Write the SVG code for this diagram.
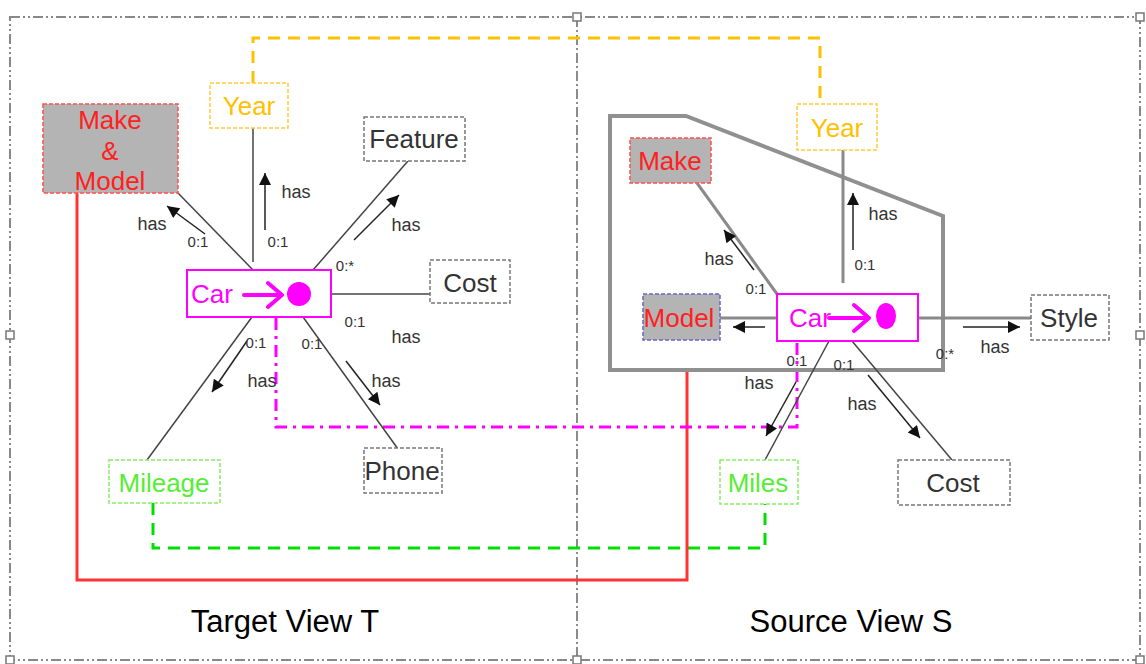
<svg xmlns="http://www.w3.org/2000/svg" width="1146" height="664" viewBox="0 0 1146 664">
<style>
text{font-family:"Liberation Sans",Arial,sans-serif}
.lbl{font-size:26px;text-anchor:middle}
.has{font-size:18px;fill:#333;text-anchor:middle}
.card{font-size:15px;fill:#333;text-anchor:middle}
.title{font-size:31px;fill:#000;text-anchor:middle}
.box{fill:#fff;stroke:#777;stroke-width:1.5;stroke-dasharray:4 2}
.ln{stroke:#444;stroke-width:1.5;fill:none}
.lnr{stroke:#8a8a8a;stroke-width:3;fill:none}
.arr{stroke:#222;stroke-width:1.5;fill:none;marker-end:url(#ah)}
.car{fill:#fff;stroke:#ff00ff;stroke-width:2}
.cartxt{fill:#ff00ff;font-size:26px}
.sym{stroke:#ff00ff;stroke-width:4;fill:none;stroke-linecap:round;stroke-linejoin:round}
.handle{fill:#fff;stroke:#777;stroke-width:1.5}
</style>
<defs>
<marker id="ah" viewBox="0 0 10 10" refX="10" refY="5" markerWidth="14" markerHeight="12" markerUnits="userSpaceOnUse" orient="auto">
<path d="M0,0 L10,5 L0,10 z" fill="#111"/>
</marker>
</defs>
<rect width="1146" height="664" fill="#fff"/>
<g id="frame">
<rect x="10" y="17" width="1130" height="643" fill="none" stroke="#888" stroke-width="2" stroke-dasharray="10 3 2 3 2 3"/>
<line x1="577" y1="17" x2="577" y2="660" stroke="#666" stroke-width="1.5" stroke-dasharray="10 3 2 3"/>
<rect class="handle" x="573" y="13" width="8" height="8"/>
<rect class="handle" x="1136" y="13" width="8" height="8"/>
<rect class="handle" x="6" y="331" width="8" height="8"/>
<rect class="handle" x="1136" y="331" width="8" height="8"/>
<rect class="handle" x="573" y="656" width="8" height="8"/>
<rect class="handle" x="6" y="656" width="8" height="8"/>
<rect class="handle" x="1136" y="656" width="8" height="8"/>
</g>
<g id="mappings">
<polyline points="253,83 253,38 820,38 820,104" fill="none" stroke="#ffc000" stroke-width="3" stroke-dasharray="12 8"/>
<polyline points="153,503 153,548 765,548 765,504" fill="none" stroke="#00e000" stroke-width="3" stroke-dasharray="12 8"/>
<polyline points="77,193 77,580 687,580 687,370" fill="none" stroke="#ff3333" stroke-width="3"/>
<polyline points="276,318 276,427 797,427 797,343" fill="none" stroke="#ff00ff" stroke-width="3" stroke-dasharray="12 6 3 6"/>
</g>
<g id="source-group">
<polygon points="610,116 686,116 943,216 943,370 610,370" fill="none" stroke="#909090" stroke-width="4"/>
</g>
<g id="connectors">
<line class="ln" x1="253" y1="270" x2="178" y2="193"/>
<line class="ln" x1="253" y1="128" x2="253" y2="262"/>
<line class="ln" x1="313" y1="270" x2="408" y2="161"/>
<line class="ln" x1="331" y1="294" x2="430" y2="294"/>
<line class="ln" x1="252" y1="317" x2="147" y2="460"/>
<line class="ln" x1="303" y1="317" x2="398" y2="449"/>
<line class="arr" x1="205" y1="234" x2="167" y2="206"/>
<line class="arr" x1="265" y1="230" x2="265" y2="173"/>
<line class="arr" x1="354" y1="240" x2="399" y2="195"/>
<line class="arr" x1="247" y1="341" x2="212" y2="392"/>
<line class="arr" x1="346" y1="361" x2="380" y2="405"/>
<line class="lnr" x1="777" y1="294" x2="697" y2="183"/>
<line class="lnr" x1="843" y1="150" x2="843" y2="283"/>
<line class="lnr" x1="720" y1="318" x2="777" y2="318"/>
<line class="lnr" x1="918" y1="318" x2="1031" y2="318"/>
<line class="ln" x1="829" y1="341" x2="765" y2="460"/>
<line class="ln" x1="852" y1="341" x2="952" y2="460"/>
<line class="arr" x1="754" y1="270" x2="724" y2="230"/>
<line class="arr" x1="853" y1="250" x2="853" y2="193"/>
<line class="arr" x1="765" y1="327" x2="733" y2="327"/>
<line class="arr" x1="963" y1="327" x2="1020" y2="327"/>
<line class="arr" x1="796" y1="382" x2="766" y2="436"/>
<line class="arr" x1="868" y1="375" x2="920" y2="438"/>
<text class="has" x="152" y="230">has</text>
<text class="card" x="198" y="247">0:1</text>
<text class="has" x="296" y="198">has</text>
<text class="card" x="278" y="247">0:1</text>
<text class="has" x="406" y="231">has</text>
<text class="card" x="345" y="271">0:*</text>
<text class="card" x="355" y="327">0:1</text>
<text class="has" x="406" y="343">has</text>
<text class="card" x="256" y="348">0:1</text>
<text class="has" x="262" y="387">has</text>
<text class="card" x="312" y="349">0:1</text>
<text class="has" x="386" y="387">has</text>
<text class="has" x="719" y="265">has</text>
<text class="card" x="756" y="294">0:1</text>
<text class="has" x="883" y="220">has</text>
<text class="card" x="865" y="270">0:1</text>
<text class="has" x="995" y="353">has</text>
<text class="card" x="945" y="359">0:*</text>
<text class="has" x="759" y="389">has</text>
<text class="card" x="797" y="366">0:1</text>
<text class="has" x="862" y="410">has</text>
<text class="card" x="844" y="370">0:1</text>
</g>
<g id="t-makemodel">
<rect x="43" y="104" width="135" height="89" fill="#b4b4b4" stroke="#ff5050" stroke-width="1.5" stroke-dasharray="4 2"/>
<text class="lbl" x="110" y="129" fill="#ff2020">Make</text>
<text class="lbl" x="110" y="160" fill="#ff2020">&amp;</text>
<text class="lbl" x="110" y="190" fill="#ff2020">Model</text>
</g>
<g id="t-year">
<rect x="210" y="83" width="78" height="45" fill="#fff" stroke="#ffcc33" stroke-width="1.5" stroke-dasharray="4 2"/>
<text class="lbl" x="249" y="115" fill="#ffc000">Year</text>
</g>
<g id="t-feature">
<rect class="box" x="364" y="117" width="101" height="44"/>
<text class="lbl" x="414" y="148" fill="#333">Feature</text>
</g>
<g id="t-cost">
<rect class="box" x="430" y="260" width="80" height="43"/>
<text class="lbl" x="470" y="292" fill="#333">Cost</text>
</g>
<g id="t-car">
<rect class="car" x="187" y="270" width="144" height="47"/>
<text class="cartxt" x="191" y="303">Car</text>
<path class="sym" d="M244,295 L281,295 M268,283 L282,295 L268,307"/>
<circle cx="299" cy="294" r="12" fill="#ff00ff"/>
</g>
<g id="t-phone">
<rect class="box" x="364" y="448" width="78" height="45"/>
<text class="lbl" x="402" y="480" fill="#333">Phone</text>
</g>
<g id="t-mileage">
<rect x="109" y="460" width="111" height="43" fill="#fff" stroke="#88ee66" stroke-width="1.5" stroke-dasharray="4 2"/>
<text class="lbl" x="164" y="492" fill="#55ee33">Mileage</text>
</g>
<g id="s-make">
<rect x="630" y="138" width="81" height="45" fill="#b4b4b4" stroke="#ff5050" stroke-width="1.5" stroke-dasharray="4 2"/>
<text class="lbl" x="670" y="170" fill="#ff2020">Make</text>
</g>
<g id="s-year">
<rect x="797" y="104" width="80" height="46" fill="#fff" stroke="#ffcc33" stroke-width="1.5" stroke-dasharray="4 2"/>
<text class="lbl" x="837" y="137" fill="#ffc000">Year</text>
</g>
<g id="s-model">
<rect x="643" y="294" width="77" height="46" fill="#b4b4b4" stroke="#6666cc" stroke-width="1.5" stroke-dasharray="4 2"/>
<text class="lbl" x="679" y="327" fill="#ff2020">Model</text>
</g>
<g id="s-car">
<rect class="car" x="777" y="294" width="141" height="47"/>
<text class="cartxt" x="789" y="327">Car</text>
<path class="sym" d="M829,318 L869,318 M854,305 L869,318 L854,331"/>
<ellipse cx="886" cy="316" rx="10" ry="13" fill="#ff00ff"/>
</g>
<g id="s-style">
<rect class="box" x="1031" y="295" width="78" height="45"/>
<text class="lbl" x="1069" y="327" fill="#333">Style</text>
</g>
<g id="s-miles">
<rect x="720" y="460" width="78" height="44" fill="#fff" stroke="#88ee66" stroke-width="1.5" stroke-dasharray="4 2"/>
<text class="lbl" x="758" y="492" fill="#55ee33">Miles</text>
</g>
<g id="s-cost">
<rect class="box" x="898" y="460" width="112" height="45"/>
<text class="lbl" x="953" y="492" fill="#333">Cost</text>
</g>
<text class="title" x="285" y="632">Target View T</text>
<text class="title" x="851" y="632">Source View S</text>
</svg>
